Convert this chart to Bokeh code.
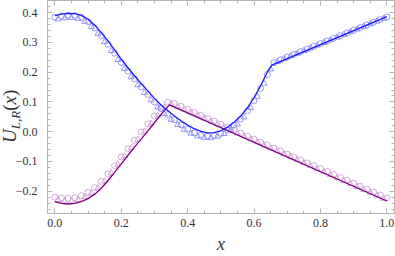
from bokeh.plotting import figure
from bokeh.models import (Range1d, LinearAxis, SingleIntervalTicker, CustomJSTickFormatter, Div,
                          CustomLabelingPolicy)
from bokeh.layouts import row
from bokeh.embed import file_html
from bokeh.resources import INLINE

# ---------------- data ----------------
# solid lines
blue_line_x = [0.00, 0.02, 0.04, 0.06, 0.08, 0.10, 0.12, 0.14, 0.16, 0.18, 0.20, 0.22, 0.24, 0.26,
               0.28, 0.30, 0.32, 0.34, 0.36, 0.38, 0.40, 0.42, 0.44, 0.46, 0.48, 0.50, 0.52, 0.54,
               0.56, 0.58, 0.60, 0.62, 0.64, 0.654, 1.00]
blue_line_y = [0.390, 0.395, 0.398, 0.397, 0.391, 0.378, 0.358, 0.333, 0.305, 0.275, 0.244, 0.215,
               0.188, 0.162, 0.137, 0.112, 0.090, 0.071, 0.053, 0.037, 0.022, 0.010, 0.001, -0.004,
               -0.003, 0.003, 0.015, 0.032, 0.053, 0.080, 0.115, 0.155, 0.200, 0.224, 0.387]

purple_line_x = [0.00, 0.02, 0.04, 0.06, 0.08, 0.10, 0.12, 0.14, 0.16, 0.18, 0.20, 0.22, 0.24, 0.26,
                 0.28, 0.30, 0.32, 0.345, 1.00]
purple_line_y = [-0.235, -0.241, -0.243, -0.241, -0.235, -0.225, -0.210, -0.190, -0.165, -0.137,
                 -0.108, -0.080, -0.052, -0.025, 0.002, 0.030, 0.058, 0.090, -0.233]

# open markers, first set (circles)
circle_x = [0.00, 0.02, 0.04, 0.06, 0.08, 0.10, 0.12, 0.14, 0.16, 0.18, 0.20, 0.22, 0.24, 0.26, 0.28,
            0.30, 0.32, 0.34, 0.36, 0.38, 0.40, 0.42, 0.44, 0.46, 0.48, 0.50, 0.52, 0.54, 0.56, 0.58,
            0.60, 0.62, 0.64, 0.66, 0.68, 0.70, 0.72, 0.74, 0.76, 0.78, 0.80, 0.82, 0.84, 0.86, 0.88,
            0.90, 0.92, 0.94, 0.96, 0.98, 1.00]
blue_circle_y = [0.385, 0.389, 0.391, 0.390, 0.384, 0.370, 0.349, 0.323, 0.294, 0.264, 0.233, 0.204,
                 0.177, 0.150, 0.125, 0.100, 0.078, 0.058, 0.040, 0.023, 0.008, -0.004, -0.012, -0.015,
                 -0.013, -0.006, 0.006, 0.022, 0.043, 0.070, 0.104, 0.145, 0.192, 0.232, 0.242, 0.251,
                 0.260, 0.269, 0.278, 0.287, 0.296, 0.305, 0.314, 0.323, 0.332, 0.341, 0.350, 0.359,
                 0.368, 0.377, 0.386]
purple_circle_y = [-0.220, -0.223, -0.224, -0.222, -0.215, -0.204, -0.188, -0.167, -0.142, -0.114,
                   -0.085, -0.057, -0.029, -0.001, 0.026, 0.053, 0.079, 0.099, 0.095, 0.085, 0.075,
                   0.065, 0.055, 0.045, 0.035, 0.025, 0.015, 0.005, -0.005, -0.015, -0.025, -0.035,
                   -0.045, -0.055, -0.065, -0.075, -0.085, -0.095, -0.105, -0.114, -0.124, -0.134,
                   -0.144, -0.154, -0.163, -0.173, -0.183, -0.193, -0.203, -0.213, -0.223]

# open markers, second set (triangles)
tri_x = [0.01, 0.03, 0.05, 0.07, 0.09, 0.11, 0.13, 0.15, 0.17, 0.19, 0.21, 0.23, 0.25, 0.27, 0.29,
         0.31, 0.33, 0.35, 0.37, 0.39, 0.41, 0.43, 0.45, 0.47, 0.49, 0.51, 0.53, 0.55, 0.57, 0.59,
         0.61, 0.63, 0.65, 0.67, 0.69, 0.71, 0.73, 0.75, 0.77, 0.79, 0.81, 0.83, 0.85, 0.87, 0.89,
         0.91, 0.93, 0.95, 0.97, 0.99]
blue_tri_y = [0.378, 0.382, 0.383, 0.380, 0.370, 0.353, 0.330, 0.302, 0.272, 0.242, 0.212, 0.184,
              0.157, 0.131, 0.106, 0.082, 0.060, 0.041, 0.023, 0.007, -0.006, -0.015, -0.020, -0.021,
              -0.016, -0.007, 0.007, 0.025, 0.049, 0.080, 0.118, 0.162, 0.210, 0.235, 0.245, 0.254,
              0.263, 0.272, 0.281, 0.290, 0.299, 0.308, 0.317, 0.326, 0.335, 0.344, 0.353, 0.362,
              0.371, 0.380]
purple_tri_y = [-0.229, -0.233, -0.233, -0.229, -0.220, -0.207, -0.189, -0.166, -0.139, -0.110,
                -0.082, -0.054, -0.026, 0.001, 0.028, 0.055, 0.081, 0.094, 0.085, 0.075, 0.065,
                0.055, 0.045, 0.035, 0.025, 0.015, 0.005, -0.005, -0.015, -0.025, -0.035, -0.045,
                -0.055, -0.065, -0.075, -0.085, -0.095, -0.105, -0.115, -0.125, -0.135, -0.145,
                -0.155, -0.165, -0.175, -0.185, -0.195, -0.205, -0.215, -0.225]

x_label = "x"
y_label_main = "U"
y_label_sub = "L,R"
y_label_arg = "x"

# ---------------- styles ----------------
BLUE = "#1a1aff"
PURPLE = "#800080"
BLUE_M = "#7a7aff"
PURPLE_M = "#c88fcf"
FRAME = "#b4b4b4"
TXT = "#333333"
SERIF = "'Liberation Serif', serif"

X0, X1 = -0.022, 1.023
Y0, Y1 = -0.275, 0.441

DIV_W = 12
p = figure(width=395 - DIV_W, height=256, output_backend="svg", toolbar_location=None,
           x_range=Range1d(X0, X1), y_range=Range1d(Y0, Y1),
           x_axis_type=None, y_axis_type=None,
           min_border_left=46 - DIV_W, min_border_right=1, min_border_top=0, min_border_bottom=42,
           background_fill_color="white", border_fill_color=None, margin=0)
p.grid.visible = False
p.outline_line_color = FRAME
p.outline_line_width = 1

fmt = CustomJSTickFormatter(code="""
const s = Math.abs(tick) < 1e-9 ? "0.0" : tick.toFixed(1);
return s.replace("-", "\u2212");
""")

def make_axis(interval, minor, labels):
    ax = LinearAxis(ticker=SingleIntervalTicker(interval=interval, num_minor_ticks=minor),
                    formatter=fmt)
    ax.axis_line_color = FRAME
    ax.major_tick_line_color = FRAME
    ax.minor_tick_line_color = FRAME
    ax.major_tick_in = 5
    ax.major_tick_out = 0
    ax.minor_tick_in = 3
    ax.minor_tick_out = 0
    ax.major_label_text_font = SERIF
    ax.major_label_text_color = TXT
    if labels:
        ax.major_label_text_font_size = "12px"
    else:
        # tick marks only on the top and right frame edges
        ax.major_label_text_font_size = "0px"
        ax.major_label_standoff = 0
        ax.major_label_policy = CustomLabelingPolicy(code="return new Set()")
    return ax

xb = make_axis(0.2, 4, True)
xb.major_label_standoff = 5
xb.axis_label = x_label
xb.axis_label_text_font = SERIF
xb.axis_label_text_font_style = "italic"
xb.axis_label_text_font_size = "18px"
xb.axis_label_text_color = TXT
xb.axis_label_standoff = 4
p.add_layout(xb, "below")
p.add_layout(make_axis(0.2, 4, False), "above")

yl = make_axis(0.1, 5, True)
yl.major_label_standoff = 10
p.add_layout(yl, "left")
p.add_layout(make_axis(0.1, 5, False), "right")

# markers
MS = 6
p.scatter(tri_x, purple_tri_y, marker="triangle", size=MS, fill_color=None,
          line_color=PURPLE_M, line_width=1, line_alpha=0.75)
p.scatter(circle_x, purple_circle_y, marker="circle", size=MS, fill_color=None,
          line_color=PURPLE_M, line_width=1, line_alpha=0.75)
p.scatter(tri_x, blue_tri_y, marker="triangle", size=MS, fill_color=None,
          line_color=BLUE_M, line_width=1, line_alpha=0.75)
p.scatter(circle_x, blue_circle_y, marker="circle", size=MS, fill_color=None,
          line_color=BLUE_M, line_width=1, line_alpha=0.75)

# lines
p.line(purple_line_x, purple_line_y, line_color=PURPLE, line_width=1.3)
p.line(blue_line_x, blue_line_y, line_color=BLUE, line_width=1.3)

# rotated y-axis title with a real subscript, in a narrow column left of the plot
ylabel_html = (
    '<span style="position:absolute; left:0px; top:143px; transform-origin:0 0; '
    'transform:rotate(-90deg); white-space:nowrap; font-family:\'Liberation Serif\', serif; '
    'font-size:19px; line-height:19px; color:%s; z-index:5;">'
    '<i>%s</i><span style="font-size:13px; position:relative; top:4px;"><i>%s</i></span>'
    '(<i>%s</i>)</span>' % (TXT, y_label_main, y_label_sub, y_label_arg)
)
ydiv = Div(text=ylabel_html, width=DIV_W, height=256, margin=0,
           styles={"position": "relative", "overflow": "visible", "z-index": "5"})

layout = row(ydiv, p, spacing=0, margin=0)
open("out.html", "w").write(file_html(layout, INLINE))
